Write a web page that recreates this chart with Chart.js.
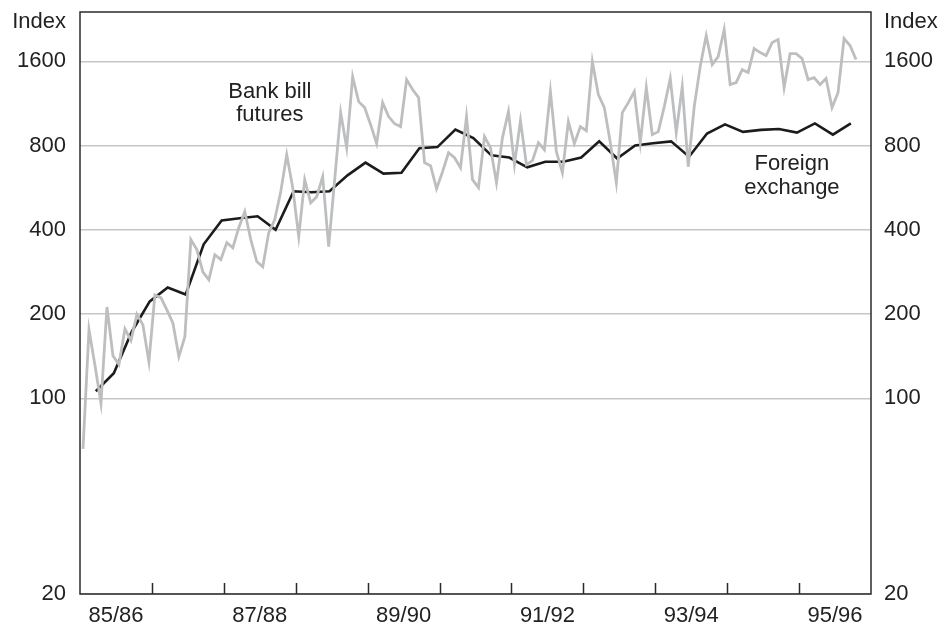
<!DOCTYPE html>
<html>
<head>
<meta charset="utf-8">
<script src="https://cdn.jsdelivr.net/npm/chart.js@4/dist/chart.umd.min.js"></script>
<style>
  html, body { margin: 0; padding: 0; background: #fff; }
  #wrap { width: 941px; height: 624px; }
</style>
</head>
<body>
<div id="wrap"><canvas id="chart" width="941" height="624"></canvas></div>
<script>
// financial years shown on the x axis (every other year is labelled)
const yearLabels = ['85/86', '87/88', '89/90', '91/92', '93/94', '95/96'];
const yTicks = [20, 100, 200, 400, 800, 1600];

// bank bill futures, monthly from Jul 1985
const bankBill = [66, 176, 131, 96, 212, 142, 132, 177, 161, 200,
  183, 135, 234, 229, 207, 186, 141, 166, 369, 340,
  283, 265, 326, 313, 360, 345, 407, 464, 369, 308,
  295, 391, 435, 547, 742, 566, 378, 604, 500, 525,
  619, 348, 604, 1049, 786, 1410, 1148, 1093, 950, 813,
  1139, 1015, 958, 935, 1376, 1268, 1187, 695, 678, 561,
  645, 755, 724, 667, 1015, 604, 566, 861, 786, 589,
  854, 1058, 684, 982, 684, 707, 819, 773, 1247, 761,
  640, 974, 813, 935, 904, 1596, 1216, 1093, 819, 589,
  1049, 1139, 1247, 819, 1289, 875, 897, 1102, 1388, 890,
  1299, 672, 1102, 1532, 1977, 1557, 1663, 2077, 1321, 1343,
  1494, 1458, 1777, 1719, 1677, 1866, 1913, 1289, 1704, 1704,
  1636, 1376, 1399, 1321, 1388, 1093, 1237, 1929, 1821, 1623];

// foreign exchange, quarterly
const foreignEx = [106, 123, 173, 222, 249, 235, 355, 432, 440, 447,
  400, 549, 545, 549, 626, 695, 635, 640, 783, 790,
  913, 850, 738, 725, 669, 700, 700, 725, 828, 719,
  800, 815, 828, 730, 883, 952, 895, 910, 917, 890,
  960, 875, 960];

const FONT = '"Liberation Sans", Arial, Helvetica, sans-serif';
const TEXT = '#222';
const SIZE = 22;

// x values are years since July 1985
const bankPts = bankBill.map((v, i) => ({ x: (i + 0.5) / 12, y: v }));
const fxPts = foreignEx.map((v, i) => ({ x: 0.22 + i * 0.25, y: v }));

const framePlugin = {
  id: 'frame',
  afterDraw(chart) {
    const { ctx, chartArea, scales } = chart;
    const { left, right, top, bottom } = chartArea;
    ctx.save();
    ctx.strokeStyle = '#2b2b2b';
    ctx.lineWidth = 1.5;
    ctx.strokeRect(left, top, right - left, bottom - top);
    // yearly tick marks pointing into the plot
    ctx.beginPath();
    for (let yr = 1; yr < 11; yr++) {
      const px = Math.round(scales.x.getPixelForValue(yr)) + 0.5;
      ctx.moveTo(px, bottom);
      ctx.lineTo(px, bottom - 11);
    }
    ctx.stroke();

    ctx.fillStyle = TEXT;
    ctx.font = SIZE + 'px ' + FONT;
    ctx.textBaseline = 'middle';
    ctx.textAlign = 'right';
    ctx.fillText('Index', left - 14, 22);
    ctx.textAlign = 'left';
    ctx.fillText('Index', right + 13, 22);

    // series labels, placed in data space
    ctx.textAlign = 'center';
    const bx = scales.x.getPixelForValue(2.64);
    const by = scales.y.getPixelForValue(1240);
    ctx.fillText('Bank bill', bx, by);
    ctx.fillText('futures', bx, by + 23);
    const fx = scales.x.getPixelForValue(9.9);
    const fy = scales.y.getPixelForValue(690);
    ctx.fillText('Foreign', fx, fy);
    ctx.fillText('exchange', fx, fy + 24);
    ctx.restore();
  }
};

const yScale = (pos) => ({
  type: 'logarithmic',
  position: pos,
  min: 20,
  max: 2400,
  afterBuildTicks: (s) => { s.ticks = yTicks.map(v => ({ value: v })); },
  afterFit: (s) => {
    s.width = pos === 'left' ? 80 : 70;
    s.paddingTop = 0;
    s.paddingBottom = 0;
  },
  border: { display: false },
  grid: pos === 'left'
    ? { color: '#c6c6c6', lineWidth: 1.5, drawTicks: false }
    : { display: false, drawTicks: false },
  ticks: {
    padding: pos === 'left' ? 14 : 13,
    color: TEXT,
    font: { family: FONT, size: SIZE },
    callback: (v) => String(v)
  }
});

new Chart(document.getElementById('chart'), {
  type: 'line',
  data: {
    datasets: [
      {
        label: 'Bank bill futures',
        data: bankPts,
        borderColor: '#bdbec0',
        borderWidth: 2.8,
        pointRadius: 0,
        tension: 0,
        yAxisID: 'y'
      },
      {
        label: 'Foreign exchange',
        data: fxPts,
        borderColor: '#1c1c1c',
        borderWidth: 2.6,
        pointRadius: 0,
        tension: 0,
        yAxisID: 'y'
      }
    ]
  },
  options: {
    responsive: false,
    animation: false,
    layout: { padding: { top: 12, left: 0, right: 0, bottom: 0 } },
    plugins: { legend: { display: false }, tooltip: { enabled: false } },
    scales: {
      x: {
        type: 'linear',
        min: 0,
        max: 11,
        afterBuildTicks: (s) => { s.ticks = yearLabels.map((_, i) => ({ value: 0.5 + 2 * i })); },
        afterFit: (s) => {
          s.height = 30;
          s.paddingLeft = 0;
          s.paddingRight = 0;
        },
        border: { display: false },
        grid: { display: false, drawTicks: false },
        ticks: {
          padding: 9,
          maxRotation: 0,
          autoSkip: false,
          color: TEXT,
          font: { family: FONT, size: SIZE },
          callback: (v, i) => yearLabels[i]
        }
      },
      y: yScale('left'),
      y2: yScale('right')
    }
  },
  plugins: [framePlugin]
});
</script>
</body>
</html>
